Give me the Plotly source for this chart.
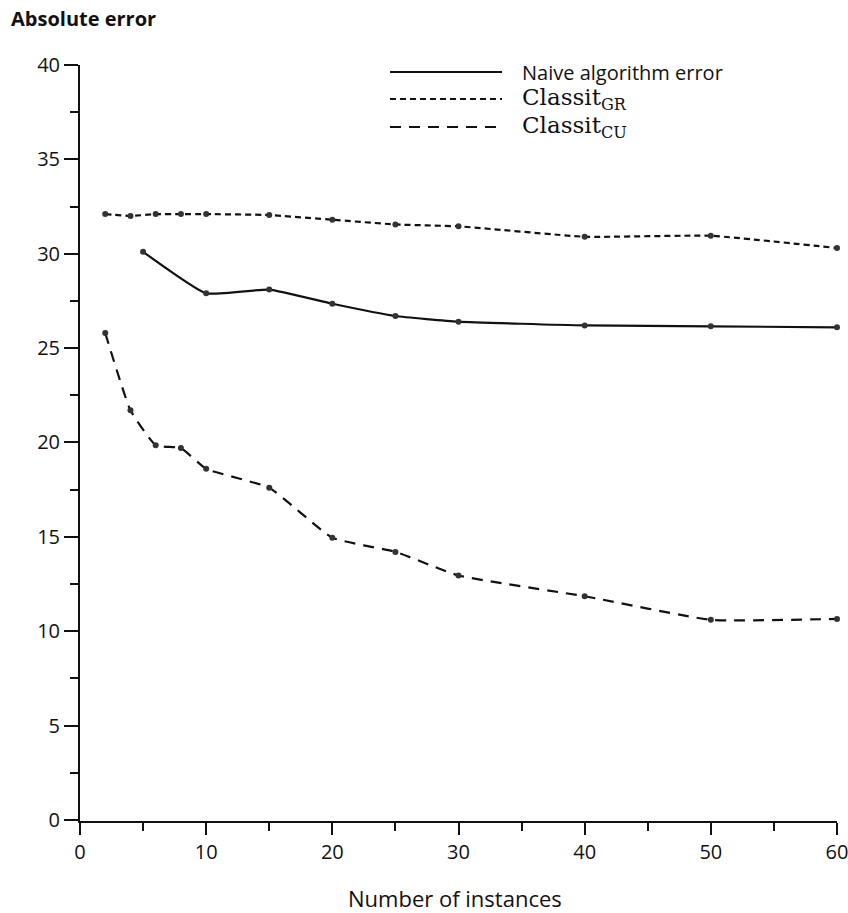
import plotly.graph_objects as go

# Training-set sizes and the absolute error of each method
x_gr = [2, 4, 6, 8, 10, 15, 20, 25, 30, 40, 50, 60]
err_gr = [32.1, 32.0, 32.1, 32.1, 32.1, 32.05, 31.8, 31.55, 31.45, 30.9, 30.95, 30.3]

x_naive = [5, 10, 15, 20, 25, 30, 40, 50, 60]
err_naive = [30.1, 27.9, 28.1, 27.35, 26.7, 26.4, 26.2, 26.15, 26.1]

x_cu = [2, 4, 6, 8, 10, 15, 20, 25, 30, 40, 50, 60]
err_cu = [25.8, 21.7, 19.85, 19.7, 18.6, 17.6, 14.95, 14.2, 12.95, 11.85, 10.6, 10.65]

x_ticks = [0, 10, 20, 30, 40, 50, 60]
y_ticks = [0, 5, 10, 15, 20, 25, 30, 35, 40]

W, H = 848, 913
L, R, T, B = 80, 837, 65, 821

SANS = "'Open Sans', Lato, sans-serif"
SERIF = "'DejaVu Serif', 'Liberation Serif', serif"
INK = "#111111"
DOT = "#333333"


def px(xp):
    return (xp - L) / (R - L)


def py(yp):
    return (B - yp) / (B - T)


fig = go.Figure()

series = [
    (x_naive, err_naive, "solid"),
    (x_gr, err_gr, "6px,4px"),
    (x_cu, err_cu, "11px,8px"),
]
for xs, ys, dash in series:
    fig.add_trace(go.Scatter(
        x=xs, y=ys, mode="lines+markers",
        line=dict(color=INK, width=2.2, dash=dash, shape="spline", smoothing=0.4),
        marker=dict(color=DOT, size=6),
        cliponaxis=False, showlegend=False, hoverinfo="skip",
    ))

# Hand-made legend: line samples plus labels
legend_rows = [
    (72, "solid", "Naive algorithm error", SANS, 20),
    (99, "6px,4px", "Classit<sub>GR</sub>", SERIF, 23),
    (127, "11px,8px", "Classit<sub>CU</sub>", SERIF, 23),
]
for yp, dash, label, family, size in legend_rows:
    fig.add_shape(type="line", xref="paper", yref="paper",
                  x0=px(390), x1=px(502), y0=py(yp), y1=py(yp),
                  line=dict(color=INK, width=2, dash=dash))
    fig.add_annotation(xref="paper", yref="paper", x=px(520), y=py(yp),
                       text=label, showarrow=False, xanchor="left", yanchor="middle",
                       font=dict(family=family, size=size, color=INK))

fig.add_annotation(xref="paper", yref="paper", x=px(9), y=py(19),
                   text="<b>Absolute error</b>", showarrow=False,
                   xanchor="left", yanchor="middle",
                   font=dict(family=SANS, size=20, color=INK))
fig.add_annotation(xref="paper", yref="paper", x=px(455), y=py(898),
                   text="Number of instances", showarrow=False,
                   xanchor="center", yanchor="middle",
                   font=dict(family=SANS, size=22, color=INK))

fig.update_xaxes(
    range=[0, 60], tickvals=x_ticks, ticktext=[str(v) for v in x_ticks],
    showline=True, linecolor=INK, linewidth=2, showgrid=False, zeroline=False,
    ticks="outside", ticklen=12, tickwidth=1.5, tickcolor=INK,
    ticklabeloverflow="allow", automargin=False,
    minor=dict(tickvals=[5, 15, 25, 35, 45, 55], ticks="outside", ticklen=8,
               tickwidth=1.5, tickcolor=INK),
    tickfont=dict(family=SANS, size=20, color=INK),
)
fig.update_yaxes(
    range=[-0.06, 40], tickvals=y_ticks, ticktext=[str(v) for v in y_ticks],
    showline=True, linecolor=INK, linewidth=2, showgrid=False, zeroline=False,
    ticks="outside", ticklen=14, tickwidth=1.5, tickcolor=INK,
    ticklabeloverflow="allow", automargin=False,
    minor=dict(tickvals=[2.5, 7.5, 12.5, 17.5, 22.5, 27.5, 32.5, 37.5],
               ticks="outside", ticklen=8, tickwidth=1.5, tickcolor=INK),
    tickfont=dict(family=SANS, size=20, color=INK),
)

fig.update_layout(
    width=W, height=H,
    margin=dict(l=L, r=W - R, t=T, b=H - B),
    paper_bgcolor="white", plot_bgcolor="white",
)

fig.write_html("out.html")
